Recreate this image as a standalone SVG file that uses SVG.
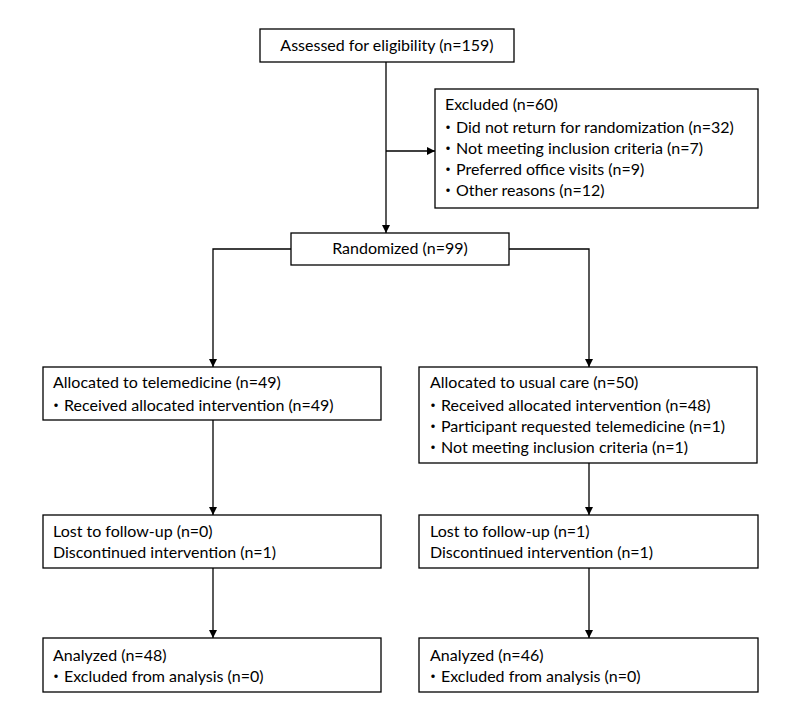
<svg xmlns="http://www.w3.org/2000/svg" width="800" height="727" viewBox="0 0 800 727">
<style>
.box{fill:#fff;stroke:#000;stroke-width:1.3}
.t{font-family:Lato,"Liberation Sans","Noto Sans CJK JP",sans-serif;font-size:16px;fill:#000}
.c{text-anchor:middle}
.ln{fill:none;stroke:#000;stroke-width:1.3}
</style>
<defs>
<marker id="ah" markerWidth="10" markerHeight="10" refX="9" refY="5" orient="auto" markerUnits="userSpaceOnUse">
<path d="M1,1 L9,5 L1,9 Z" fill="#000"/>
</marker>
</defs>
<rect width="800" height="727" fill="#fff"/>
<g id="connectors">
<line class="ln" x1="386" y1="62" x2="386" y2="233" marker-end="url(#ah)"/>
<line class="ln" x1="386" y1="151" x2="435" y2="151" marker-end="url(#ah)"/>
<polyline class="ln" points="291,249 213,249 213,367" marker-end="url(#ah)"/>
<polyline class="ln" points="509,249 589,249 589,367" marker-end="url(#ah)"/>
<line class="ln" x1="213" y1="420" x2="213" y2="515" marker-end="url(#ah)"/>
<line class="ln" x1="589" y1="463" x2="589" y2="515" marker-end="url(#ah)"/>
<line class="ln" x1="213" y1="568" x2="213" y2="638" marker-end="url(#ah)"/>
<line class="ln" x1="589" y1="568" x2="589" y2="638" marker-end="url(#ah)"/>
</g>
<g id="assessed">
<rect class="box" x="260" y="29" width="254" height="33"/>
<text class="t c" x="387" y="51">Assessed for eligibility (n=159)</text>
</g>
<g id="excluded">
<rect class="box" x="435" y="89" width="323" height="119"/>
<text class="t" x="445" y="110">Excluded (n=60)</text>
<text class="t" x="440" y="133">・Did not return for randomization (n=32)</text>
<text class="t" x="440" y="154">・Not meeting inclusion criteria (n=7)</text>
<text class="t" x="440" y="175">・Preferred office visits (n=9)</text>
<text class="t" x="440" y="196">・Other reasons (n=12)</text>
</g>
<g id="randomized">
<rect class="box" x="291" y="233" width="218" height="32"/>
<text class="t c" x="400" y="254">Randomized (n=99)</text>
</g>
<g id="alloc-tele">
<rect class="box" x="43" y="367" width="338" height="53"/>
<text class="t" x="53" y="388">Allocated to telemedicine (n=49)</text>
<text class="t" x="48" y="411">・Received allocated intervention (n=49)</text>
</g>
<g id="alloc-usual">
<rect class="box" x="419" y="367" width="338" height="96"/>
<text class="t" x="430" y="388">Allocated to usual care (n=50)</text>
<text class="t" x="425" y="411">・Received allocated intervention (n=48)</text>
<text class="t" x="425" y="432">・Participant requested telemedicine (n=1)</text>
<text class="t" x="425" y="453">・Not meeting inclusion criteria (n=1)</text>
</g>
<g id="lost-tele">
<rect class="box" x="43" y="515" width="338" height="53"/>
<text class="t" x="53" y="537">Lost to follow-up (n=0)</text>
<text class="t" x="53" y="558">Discontinued intervention (n=1)</text>
</g>
<g id="lost-usual">
<rect class="box" x="419" y="515" width="339" height="53"/>
<text class="t" x="430" y="537">Lost to follow-up (n=1)</text>
<text class="t" x="430" y="558">Discontinued intervention (n=1)</text>
</g>
<g id="analyzed-tele">
<rect class="box" x="43" y="638" width="338" height="54"/>
<text class="t" x="53" y="661">Analyzed (n=48)</text>
<text class="t" x="48" y="682">・Excluded from analysis (n=0)</text>
</g>
<g id="analyzed-usual">
<rect class="box" x="419" y="638" width="339" height="54"/>
<text class="t" x="430" y="661">Analyzed (n=46)</text>
<text class="t" x="425" y="682">・Excluded from analysis (n=0)</text>
</g>
</svg>
